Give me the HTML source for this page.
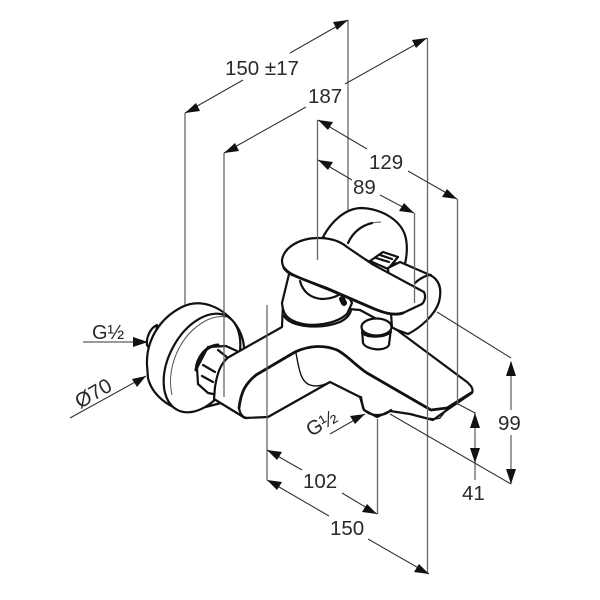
<!DOCTYPE html>
<html><head><meta charset="utf-8"><style>
html,body{margin:0;padding:0;background:#fff}
svg{display:block}
text{font-family:"Liberation Sans",sans-serif;font-size:20.5px;fill:#2a2a2a}
.f{fill:#fff;stroke:#111;stroke-width:2.2;stroke-linejoin:round;stroke-linecap:round}
.n{fill:none;stroke:#111;stroke-width:2.2;stroke-linecap:round;stroke-linejoin:round}
.t{fill:none;stroke:#555;stroke-width:1}
.d{stroke:#333;stroke-width:1.1;fill:none}
.v{stroke:#666;stroke-width:1.3;fill:none}
.a{fill:#111;stroke:none}
</style></head><body>
<svg width="600" height="600" viewBox="0 0 600 600" xmlns="http://www.w3.org/2000/svg">
<!-- back flange -->
<path class="f" d="M323 237C331 222 345 208 362 208C382 209 400 220 405 235C408 245 407 255 405 264L370 262Z"/>
<path class="t" d="M348 243C354 230 366 222 381 222"/>
<path class="n" d="M348 243C354 230 364 225 372 223"/>
<path class="f" d="M370 261L383 252L398 257L388 269Z"/>
<path class="n" d="M376 258L389 262M380 255L392 259"/>
<!-- right rear body -->
<path class="f" d="M388 268L400 262L430 275C440 280 442 290 439 302C435 315 420 328 408 334L392 328Z"/>
<path class="n" d="M415 283C420 278 427 275 431 275"/>
<!-- left flange -->
<path class="f" d="M157 325C150 328 146 338 147 345C150 350 152 350 155 345Z"/>
<path class="f" d="M147 365C146 340 160 318 182 307C200 298 222 306 236 325C245 338 245 352 243 362L225 402L190 411C170 410 152 395 148 378Z"/>
<ellipse class="f" cx="202" cy="363" rx="53" ry="33" transform="rotate(-62 202 363)"/>
<path class="t" d="M172 395C166 370 178 335 207 320C216 316 222 316 226 317"/>
<!-- hex nut -->
<path class="f" d="M197 368L208 347L226 346L239 352L224 396L208 393L198 384Z"/>
<path class="n" d="M203 365L215 372M202 376L213 382M218 350L228 358"/>
<path class="n" style="stroke-width:3" d="M196 370C197 358 205 346 218 345"/>
<!-- body -->
<path class="f" d="M283 303L282 327L229 357C220 363 217 375 215 387L214 399L245 418L268 417L330 382L360 397L364 410L377 417L390 411L410 414L433 420L447 410L472 393C474 388 470 385 467 382L397 330L360 310Z"/>
<path class="n" style="stroke-width:2.8" d="M239 408C241 392 245 384 256 375L295 352C310 345 325 345 337 350C347 355 355 365 367 373L431 410L447 408L471 393"/>
<path class="n" d="M239 408C240 414 243 418 248 418"/>
<path class="n" style="stroke-width:1.4" d="M296 353C299 370 301 382 310 385C316 387 322 386 330 382"/>
<path class="n" d="M361 397L363 408C368 417 385 417 391 410"/>
<path class="n" style="stroke-width:1.4" d="M412 414C420 418 435 420 440 418L447 409"/>
<!-- column base -->
<path class="f" d="M282 303C283 312 285 318 296 322C312 328 336 324 347 314L352 303L340 280L290 270Z"/>
<path class="n" d="M284 316C290 327 320 330 340 322C346 319 350 315 351 310"/>
<path class="n" d="M300 281C303 292 310 298 322 299C332 299 339 295 340 294"/>
<path class="n" style="stroke-width:6" d="M342 299L344 303"/>
<!-- lever -->
<path class="f" d="M282 260C284 247 300 238 318 238C330 238 340 241 347 247L372 264L424 292C426 296 425 301 422 304L403 313C394 316 382 312 373 308L327 288L292 275C286 272 282 267 282 260Z"/>
<path class="n" style="stroke-width:2.8" d="M284 268C288 273 293 275 300 278L330 290L372 308C384 313 394 316 403 313"/>
<!-- knob -->
<path class="f" d="M362 328L363 343C366 350 385 352 389 345L391 328Z"/>
<ellipse class="f" cx="376.500" cy="327" rx="15" ry="8.500"/>
<path class="n" d="M362 333C368 338 384 338 391 332"/>
<!-- extension lines -->
<g class="v">
<path d="M185 113V305"/><path d="M224 153V397"/><path d="M348 20V210"/><path d="M427.500 38V574"/>
<path d="M317.500 120V260"/><path d="M414.500 213V303"/><path d="M457.500 199V405"/>
<path d="M267 305V480"/><path d="M377.500 419V514"/><path d="M475 412V480"/><path d="M511 362V410M511 435V484"/>
</g>
<g class="d">
<path d="M290 53L348 20M185 113L243 80"/>
<path d="M345 84L427 38M224 153L306 107"/>
<path d="M318 120L367 149M408 171L457 199"/>
<path d="M318 160L352 180M380 195L414 213"/>
<path d="M267 450L302 470M342 493L377 514"/>
<path d="M267 480L329 516M368 539L429 574"/>
<path d="M390 414L511 484M437 312L511 358M458 404L475 413"/>
<path d="M83 342H147M70 418L146 376M330 434L365 414"/>
</g>
<!-- arrowheads -->
<g class="a">
<path d="M348 20L333 22L337 30Z"/><path d="M185 113L200 111L196 103Z"/>
<path d="M427 38L412 40L416 48Z"/><path d="M224 153L239 151L235 143Z"/>
<path d="M318 120L333 122L328 130Z"/><path d="M457 199L442 197L447 189Z"/>
<path d="M318 160L333 162L328 170Z"/><path d="M414 213L399 211L404 203Z"/>
<path d="M267 450L282 452L277 460Z"/><path d="M377 514L362 512L367 504Z"/>
<path d="M267 480L282 482L277 490Z"/><path d="M429 574L414 572L419 564Z"/>
<path d="M148 342L133 337V347Z"/><path d="M146 376L132 379L137 387Z"/>
<path d="M365 414L350 416L355 424Z"/>
<path d="M511 361L506 376H516Z"/><path d="M511 484L506 469H516Z"/>
<path d="M475 413L470 428H480Z"/><path d="M475 463L470 448H480Z"/>
</g>
<!-- labels -->
<text x="225" y="75">150 ±17</text>
<text x="308" y="103">187</text>
<text x="369" y="169">129</text>
<text x="353" y="194">89</text>
<text x="303" y="488">102</text>
<text x="330" y="535">150</text>
<text x="498" y="430">99</text>
<text x="462" y="500">41</text>
<text x="92" y="339" style="font-size:20px">G½</text>
<text transform="translate(80 409) rotate(-30)">Ø70</text>
<text transform="translate(311 437) rotate(-30)" style="font-size:20px">G½</text>
</svg>
</body></html>
